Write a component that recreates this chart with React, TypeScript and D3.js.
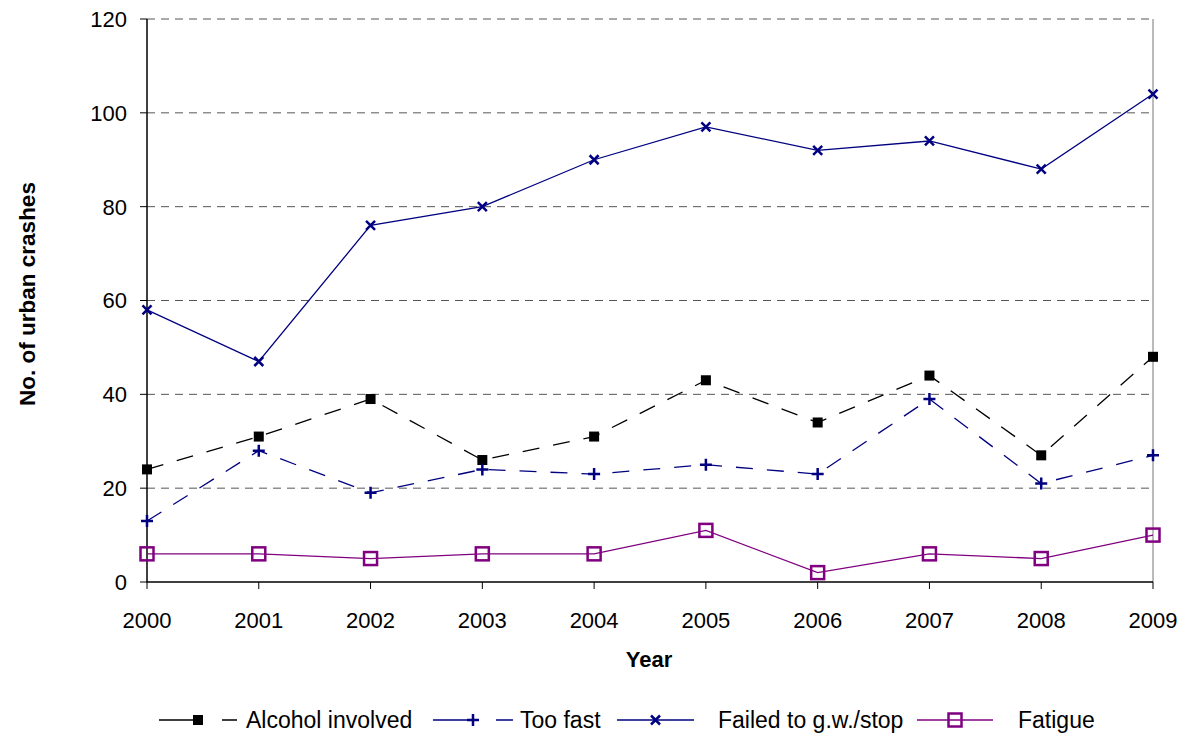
import React from 'react';
import * as d3 from 'd3';

const years = [2000, 2001, 2002, 2003, 2004, 2005, 2006, 2007, 2008, 2009];
const alcohol = [24, 31, 39, 26, 31, 43, 34, 44, 27, 48];
const tooFast = [13, 28, 19, 24, 23, 25, 23, 39, 21, 27];
const failedStop = [58, 47, 76, 80, 90, 97, 92, 94, 88, 104];
const fatigue = [6, 6, 5, 6, 6, 11, 2, 6, 5, 10];
const yTicks = [0, 20, 40, 60, 80, 100, 120];

const FONT = 'Liberation Sans, Arial, sans-serif';

type Marker = 'square' | 'plus' | 'cross' | 'hollow';

interface Series {
  name: string;
  values: number[];
  color: string;
  dash: string | undefined;
  marker: Marker;
}

const series: Series[] = [
  { name: 'Alcohol involved', values: alcohol, color: '#000000', dash: '17,14', marker: 'square' },
  { name: 'Too fast', values: tooFast, color: '#000080', dash: '17,14', marker: 'plus' },
  { name: 'Failed to g.w./stop', values: failedStop, color: '#000080', dash: undefined, marker: 'cross' },
  { name: 'Fatigue', values: fatigue, color: '#800080', dash: undefined, marker: 'hollow' },
];

// draws one marker centered at cx, cy
const drawMarker = (m: Marker, color: string, cx: number, cy: number, key: string) => {
  if (m === 'square') {
    return <rect key={key} x={cx - 5} y={cy - 5} width={10} height={10} fill={color} />;
  }
  if (m === 'plus') {
    return (
      <path key={key} d={`M${cx - 6},${cy}H${cx + 6}M${cx},${cy - 6}V${cy + 6}`}
        stroke={color} strokeWidth={2.5} fill="none" />
    );
  }
  if (m === 'cross') {
    return (
      <path key={key} d={`M${cx - 4.5},${cy - 4.5}L${cx + 4.5},${cy + 4.5}M${cx - 4.5},${cy + 4.5}L${cx + 4.5},${cy - 4.5}`}
        stroke={color} strokeWidth={2.5} fill="none" />
    );
  }
  return (
    <rect key={key} x={cx - 6.5} y={cy - 6.5} width={13} height={13}
      fill="none" stroke={color} strokeWidth={2.5} />
  );
};

const App: React.FC = () => {
  const width = 1185;
  const height = 735;
  const left = 147, right = 1153, top = 19, bottom = 582;

  const x = d3.scaleLinear().domain([2000, 2009]).range([left, right]);
  const y = d3.scaleLinear().domain([0, 120]).range([bottom, top]);

  const line = d3.line<number>()
    .x((_, i) => x(years[i]))
    .y(d => y(d));

  // legend layout: [lineStart, lineEnd, textX]
  const legendPos = [
    [159, 237, 246],
    [433, 513, 520],
    [617, 694, 718],
    [917, 993, 1018],
  ];
  const legendY = 720;

  return (
    <svg width={width} height={height} style={{ position: 'absolute', left: 0, top: 0 }}
      fontFamily={FONT}>
      <rect width={width} height={height} fill="#fff" />

      {/* gridlines */}
      {yTicks.filter(t => t > 0).map(t => (
        <line key={t} x1={left} x2={right} y1={y(t)} y2={y(t)}
          stroke="#555" strokeWidth={1} strokeDasharray="8,6" />
      ))}
      {/* right border */}
      <line x1={right} x2={right} y1={top} y2={bottom} stroke="#777" strokeWidth={1} />

      {/* axes */}
      <line x1={left} x2={left} y1={top} y2={bottom + 0.5} stroke="#000" strokeWidth={1.5} />
      <line x1={left} x2={right} y1={bottom} y2={bottom} stroke="#000" strokeWidth={1.5} />

      {yTicks.map(t => (
        <g key={t}>
          <line x1={left - 7} x2={left} y1={y(t)} y2={y(t)} stroke="#000" strokeWidth={1} />
          <text x={left - 20} y={y(t)} dy="0.36em" textAnchor="end" fontSize={22}>{t}</text>
        </g>
      ))}
      {years.map(yr => (
        <g key={yr}>
          <line x1={x(yr)} x2={x(yr)} y1={bottom} y2={bottom + 7} stroke="#000" strokeWidth={1} />
          <text x={x(yr)} y={bottom + 46} textAnchor="middle" fontSize={22}>{yr}</text>
        </g>
      ))}

      <text x={649} y={667} textAnchor="middle" fontSize={22} fontWeight="bold">Year</text>
      <text transform="translate(35,294) rotate(-90)" textAnchor="middle" fontSize={22.5} fontWeight="bold">
        No. of urban crashes
      </text>

      {/* series */}
      {series.map(s => (
        <g key={s.name}>
          <path d={line(s.values) ?? ''} fill="none" stroke={s.color} strokeWidth={1.3}
            strokeDasharray={s.dash} />
          {s.values.map((v, i) => drawMarker(s.marker, s.color, x(years[i]), y(v), `${s.name}-${i}`))}
        </g>
      ))}

      {/* legend */}
      {series.map((s, i) => {
        const [x0, x1, tx] = legendPos[i];
        const mid = (x0 + x1) / 2;
        return (
          <g key={s.name}>
            <line x1={x0} x2={x1} y1={legendY} y2={legendY} stroke={s.color} strokeWidth={1.3}
              strokeDasharray={s.dash ? '39,24,17,100' : undefined} />
            {drawMarker(s.marker, s.color, mid, legendY, `leg-${i}`)}
            <text x={tx} y={legendY} dy="0.36em" fontSize={23}>{s.name}</text>
          </g>
        );
      })}
    </svg>
  );
};

export default App;
